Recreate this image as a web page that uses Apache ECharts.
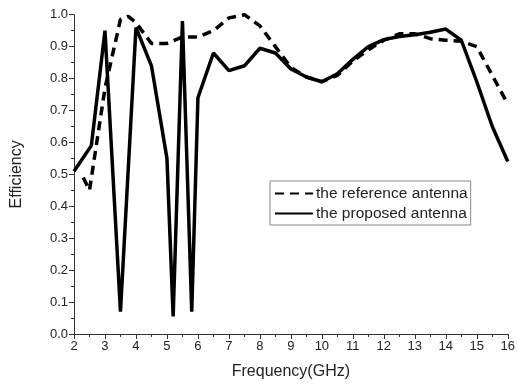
<!DOCTYPE html>
<html>
<head>
<meta charset="utf-8">
<script src="https://cdn.jsdelivr.net/npm/echarts@6/dist/echarts.min.js"></script>
<style>html,body{margin:0;padding:0;background:#fff}#c{width:518px;height:385px}</style>
</head>
<body>
<div id="c"></div>
<script>
const refFreq = [2.3, 2.5, 3, 3.5, 3.75, 4, 4.5, 5, 5.5, 6, 6.5, 7, 7.5, 8, 8.5, 9, 9.5, 10, 10.5, 11, 11.5, 12, 12.5, 13, 13.5, 14, 14.5, 15, 15.5, 16];
const refEff  = [0.49, 0.45, 0.77, 0.985, 0.995, 0.975, 0.91, 0.91, 0.93, 0.93, 0.95, 0.99, 1.0, 0.965, 0.9, 0.835, 0.805, 0.79, 0.81, 0.855, 0.89, 0.92, 0.94, 0.94, 0.925, 0.92, 0.917, 0.9, 0.81, 0.72];
const propFreq = [2, 2.56, 3, 3.5, 4, 4.5, 5, 5.2, 5.5, 5.8, 6, 6.5, 7, 7.5, 8, 8.5, 9, 9.5, 10, 10.5, 11, 11.5, 12, 12.5, 13, 13.5, 14, 14.5, 15, 15.5, 16];
const propEff  = [0.51, 0.59, 0.95, 0.07, 0.96, 0.84, 0.55, 0.055, 0.98, 0.07, 0.74, 0.88, 0.825, 0.84, 0.895, 0.88, 0.83, 0.805, 0.79, 0.815, 0.86, 0.90, 0.922, 0.932, 0.937, 0.945, 0.955, 0.92, 0.79, 0.65, 0.54];
const seriesNames = ['the reference antenna', 'the proposed antenna'];
const xTitle = 'Frequency(GHz)';
const yTitle = 'Efficiency';

const zip = (xs, ys) => xs.map((x, i) => [x, ys[i]]);
const font = 'Liberation Sans, Arial, sans-serif';
const chart = echarts.init(document.getElementById('c'), null, {renderer: 'canvas'});
chart.setOption({
  animation: false,
  backgroundColor: '#fff',
  grid: {left: 74, right: 6.5, top: 14.7, bottom: 50},
  legend: {
    orient: 'vertical', left: 270, top: 181,
    data: seriesNames,
    itemWidth: 38, itemHeight: 10, itemGap: 1,
    padding: [3, 3, 2, 4],
    borderColor: '#888', borderWidth: 1,
    itemStyle: {opacity: 0},
    textStyle: {fontFamily: font, fontSize: 15.5, color: '#222', lineHeight: 19, padding: [0, 0, 0, -2]}
  },
  xAxis: {
    type: 'value', min: 2, max: 16, interval: 1,
    name: xTitle, nameLocation: 'middle', nameGap: 30,
    nameTextStyle: {fontFamily: font, fontSize: 16, color: '#222'},
    axisLine: {show: true, onZero: false, lineStyle: {color: '#333', width: 1}},
    axisTick: {show: true, length: 5, lineStyle: {color: '#333'}},
    minorTick: {show: true, splitNumber: 2, length: 3, lineStyle: {color: '#333'}},
    splitLine: {show: false},
    axisLabel: {fontFamily: font, fontSize: 13, color: '#222', margin: 6}
  },
  yAxis: {
    type: 'value', min: 0, max: 1, interval: 0.1,
    name: yTitle, nameLocation: 'middle', nameGap: 49,
    nameTextStyle: {fontFamily: font, fontSize: 16, color: '#222'},
    axisLine: {show: true, lineStyle: {color: '#333', width: 1}},
    axisTick: {show: true, length: 5, lineStyle: {color: '#333'}},
    minorTick: {show: true, splitNumber: 2, length: 3, lineStyle: {color: '#333'}},
    splitLine: {show: false},
    axisLabel: {fontFamily: font, fontSize: 13, color: '#222', margin: 6, formatter: v => v.toFixed(1)}
  },
  series: [
    {
      name: seriesNames[0], type: 'line', data: zip(refFreq, refEff),
      showSymbol: false, symbol: 'circle', symbolSize: 0,
      lineStyle: {color: '#000', width: 3.5, type: [9, 6]},
      itemStyle: {color: '#000'}
    },
    {
      name: seriesNames[1], type: 'line', data: zip(propFreq, propEff),
      showSymbol: false, symbol: 'circle', symbolSize: 0,
      lineStyle: {color: '#000', width: 3.5, type: 'solid'},
      itemStyle: {color: '#000'}
    }
  ]
});
</script>
</body>
</html>
